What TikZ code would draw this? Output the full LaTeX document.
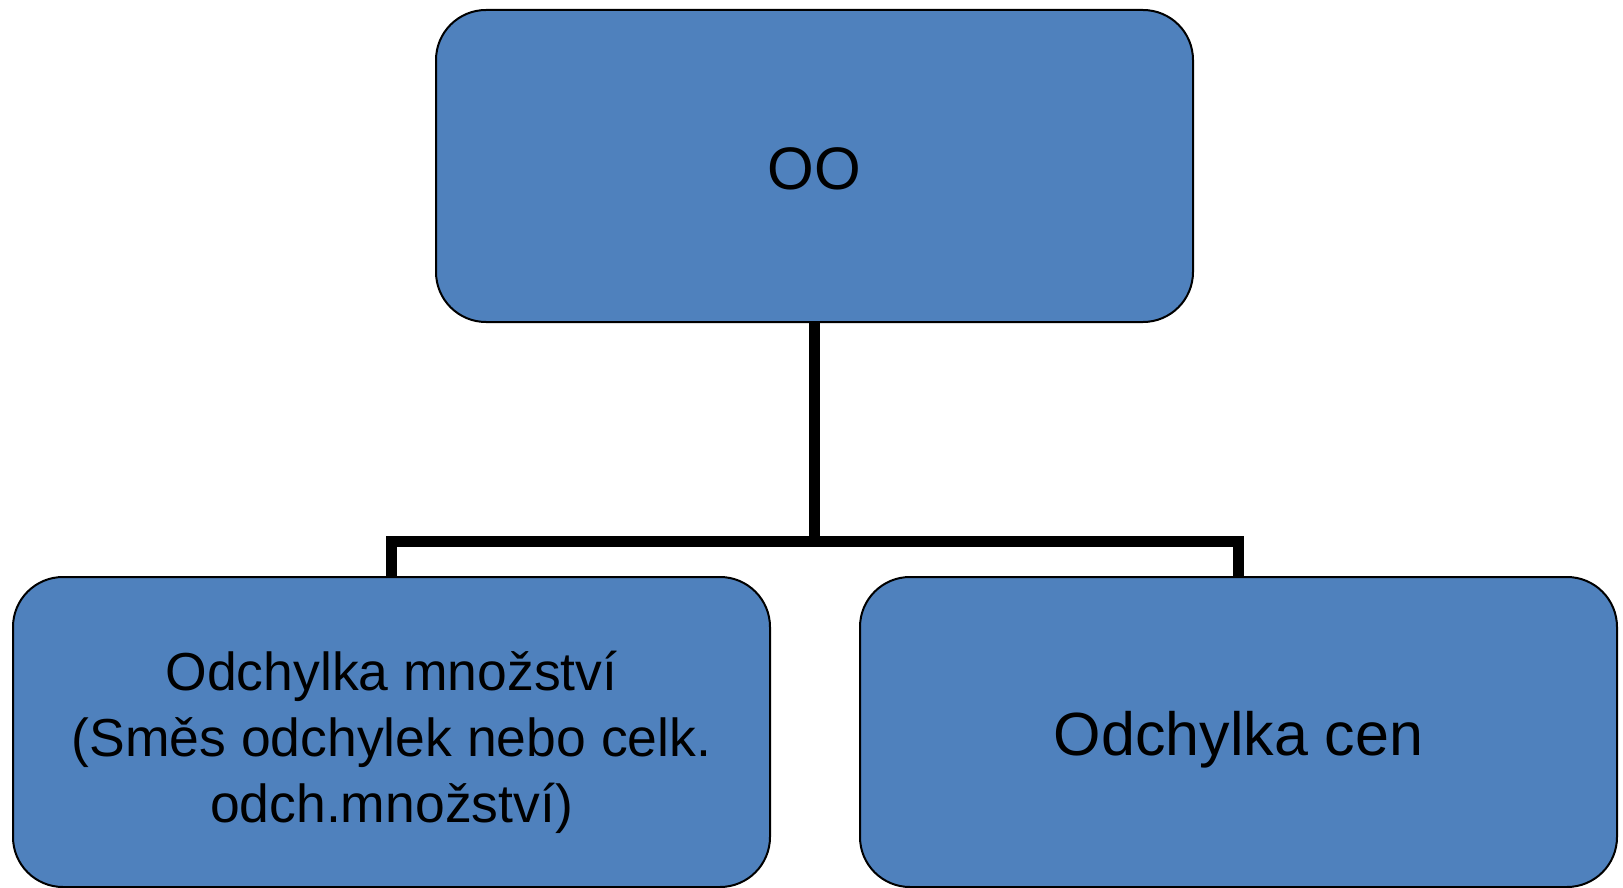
\documentclass[tikz,border=0pt]{standalone}
\usepackage{fontspec}
\setmainfont{Liberation Sans}
\definecolor{boxblue}{HTML}{4F81BD}
\begin{document}
\begin{tikzpicture}[x=1pt,y=-1pt,
  box/.style={draw=black, line width=2pt, fill=boxblue, rounded corners=50pt,
    minimum width=757pt, minimum height=310pt, inner sep=0pt},
  txt/.style={inner sep=0pt, align=center},
  conn/.style={draw=black, line width=11pt, line join=miter}]
\useasboundingbox (0,0) rectangle (1623,888);
\node[box, minimum height=312pt] (top) at (814.5,166) {};
\node[box] (left) at (391.5,732) {};
\node[box] (right) at (1238.5,732) {};
\node[txt, font=\fontsize{60}{72}\selectfont] (toptxt) at ([yshift=-3pt]top.center) {OO};
\node[txt, font=\fontsize{53.5}{66}\selectfont] (lefttxt) at ([yshift=-10pt]left.center) {Odchylka množství\\(Směs odchylek nebo celk.\\odch.množství)};
\node[txt, font=\fontsize{61}{73}\selectfont] (righttxt) at ([yshift=-8pt]right.center) {Odchylka cen};
\coordinate (j) at (814.5,541);
\draw[conn] (top.south) -- (j);
\draw[conn] (left.north) |- (j);
\draw[conn] (right.north) |- (j);
\end{tikzpicture}
\end{document}
